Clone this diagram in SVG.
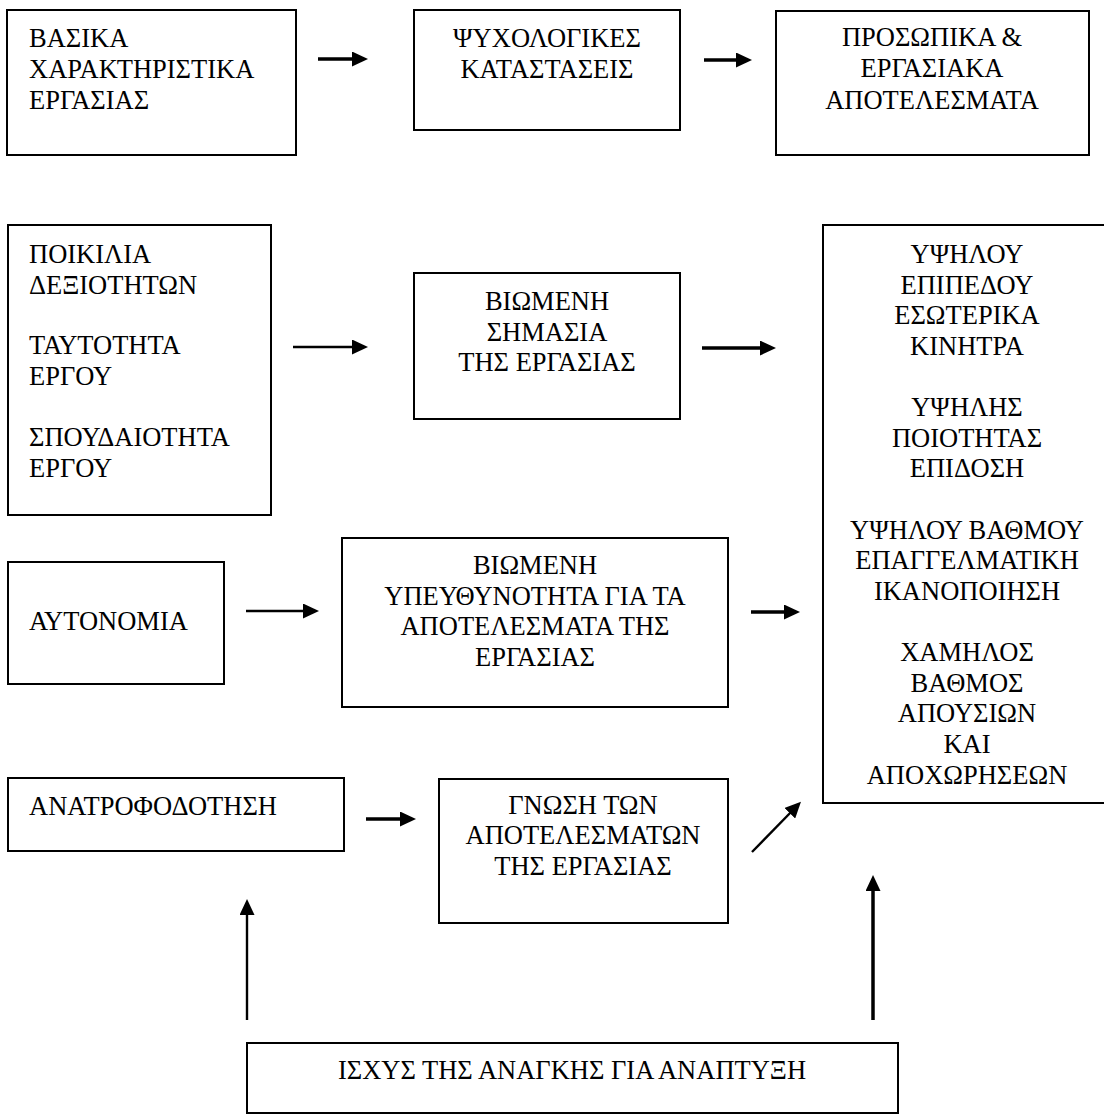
<svg xmlns="http://www.w3.org/2000/svg" width="1104" height="1114" viewBox="0 0 1104 1114">
<defs>
<style>
.box{fill:#fff;stroke:#000;stroke-width:2}
text{font-family:'Liberation Serif','DejaVu Serif',serif;font-size:26.5px;fill:#000}
.c{text-anchor:middle}
.arr{fill:none;stroke:#000;stroke-width:3.5}
.thin{stroke-width:2.4}
</style>
<marker id="ah" viewBox="0 0 16 15" refX="6" refY="7.5" markerWidth="16" markerHeight="15" markerUnits="userSpaceOnUse" orient="auto">
<polygon points="0,0 16,7.5 0,15" fill="#000"/>
</marker>
</defs>
<rect width="1104" height="1114" fill="#fff"/>

<g id="n-basika">
<rect class="box" x="7" y="10" width="289" height="145"/>
<text x="29" y="47" font-family="Liberation Serif, serif">ΒΑΣΙΚΑ</text>
<text x="29" y="78" font-family="Liberation Serif, serif">ΧΑΡΑΚΤΗΡΙΣΤΙΚΑ</text>
<text x="29" y="109" font-family="Liberation Serif, serif">ΕΡΓΑΣΙΑΣ</text>
</g>
<g id="n-psyxologikes">
<rect class="box" x="414" y="10" width="266" height="120"/>
<text class="c" x="547" y="47">ΨΥΧΟΛΟΓΙΚΕΣ</text>
<text class="c" x="547" y="78">ΚΑΤΑΣΤΑΣΕΙΣ</text>
</g>
<g id="n-prosopika">
<rect class="box" x="776" y="11" width="313" height="144"/>
<text class="c" x="932" y="46">ΠΡΟΣΩΠΙΚΑ &amp;</text>
<text class="c" x="932" y="77">ΕΡΓΑΣΙΑΚΑ</text>
<text class="c" x="932" y="109">ΑΠΟΤΕΛΕΣΜΑΤΑ</text>
</g>
<g id="n-poikilia">
<rect class="box" x="8" y="225" width="263" height="290"/>
<text x="29" y="263">ΠΟΙΚΙΛΙΑ</text>
<text x="29" y="294">ΔΕΞΙΟΤΗΤΩΝ</text>
<text x="29" y="354">ΤΑΥΤΟΤΗΤΑ</text>
<text x="29" y="385">ΕΡΓΟΥ</text>
<text x="29" y="446">ΣΠΟΥΔΑΙΟΤΗΤΑ</text>
<text x="29" y="477">ΕΡΓΟΥ</text>
</g>
<g id="n-simasia">
<rect class="box" x="414" y="273" width="266" height="146"/>
<text class="c" x="547" y="310">ΒΙΩΜΕΝΗ</text>
<text class="c" x="547" y="341">ΣΗΜΑΣΙΑ</text>
<text class="c" x="547" y="371">ΤΗΣ ΕΡΓΑΣΙΑΣ</text>
</g>
<g id="n-apotelesmata">
<rect class="box" x="823" y="225" width="290" height="578"/>
<text class="c" x="967" y="263">ΥΨΗΛΟΥ</text>
<text class="c" x="967" y="294">ΕΠΙΠΕΔΟΥ</text>
<text class="c" x="967" y="324">ΕΣΩΤΕΡΙΚΑ</text>
<text class="c" x="967" y="355">ΚΙΝΗΤΡΑ</text>
<text class="c" x="967" y="416">ΥΨΗΛΗΣ</text>
<text class="c" x="967" y="447">ΠΟΙΟΤΗΤΑΣ</text>
<text class="c" x="967" y="477">ΕΠΙΔΟΣΗ</text>
<text class="c" x="967" y="539">ΥΨΗΛΟΥ ΒΑΘΜΟΥ</text>
<text class="c" x="967" y="569">ΕΠΑΓΓΕΛΜΑΤΙΚΗ</text>
<text class="c" x="967" y="600">ΙΚΑΝΟΠΟΙΗΣΗ</text>
<text class="c" x="967" y="661">ΧΑΜΗΛΟΣ</text>
<text class="c" x="967" y="692">ΒΑΘΜΟΣ</text>
<text class="c" x="967" y="722">ΑΠΟΥΣΙΩΝ</text>
<text class="c" x="967" y="753">ΚΑΙ</text>
<text class="c" x="967" y="784">ΑΠΟΧΩΡΗΣΕΩΝ</text>
</g>
<g id="n-autonomia">
<rect class="box" x="8" y="562" width="216" height="122"/>
<text x="29" y="630">ΑΥΤΟΝΟΜΙΑ</text>
</g>
<g id="n-ypeuthynotita">
<rect class="box" x="342" y="538" width="386" height="169"/>
<text class="c" x="535" y="574">ΒΙΩΜΕΝΗ</text>
<text class="c" x="535" y="605">ΥΠΕΥΘΥΝΟΤΗΤΑ ΓΙΑ ΤΑ</text>
<text class="c" x="535" y="635">ΑΠΟΤΕΛΕΣΜΑΤΑ ΤΗΣ</text>
<text class="c" x="535" y="666">ΕΡΓΑΣΙΑΣ</text>
</g>
<g id="n-anatrofodotisi">
<rect class="box" x="8" y="778" width="336" height="73"/>
<text x="29" y="815">ΑΝΑΤΡΟΦΟΔΟΤΗΣΗ</text>
</g>
<g id="n-gnosi">
<rect class="box" x="439" y="779" width="289" height="144"/>
<text class="c" x="583" y="814">ΓΝΩΣΗ ΤΩΝ</text>
<text class="c" x="583" y="844">ΑΠΟΤΕΛΕΣΜΑΤΩΝ</text>
<text class="c" x="583" y="875">ΤΗΣ ΕΡΓΑΣΙΑΣ</text>
</g>
<g id="n-isxys">
<rect class="box" x="247" y="1043" width="651" height="70"/>
<text class="c" x="572" y="1079">ΙΣΧΥΣ ΤΗΣ ΑΝΑΓΚΗΣ ΓΙΑ ΑΝΑΠΤΥΞΗ</text>
</g>

<g id="connectors">
<path class="arr" d="M318,59 H358" marker-end="url(#ah)"/>
<path class="arr" d="M704,60 H742" marker-end="url(#ah)"/>
<path class="arr thin" d="M293,347 H358" marker-end="url(#ah)"/>
<path class="arr" d="M702,348 H766" marker-end="url(#ah)"/>
<path class="arr thin" d="M246,611 H309" marker-end="url(#ah)"/>
<path class="arr" d="M751,612 H790" marker-end="url(#ah)"/>
<path class="arr" d="M366,819 H406" marker-end="url(#ah)"/>
<path class="arr thin" d="M752,852 L794,809" marker-end="url(#ah)"/>
<path class="arr thin" d="M247,1020 V909" marker-end="url(#ah)"/>
<path class="arr" d="M873,1020 V885" marker-end="url(#ah)"/>
</g>
</svg>
